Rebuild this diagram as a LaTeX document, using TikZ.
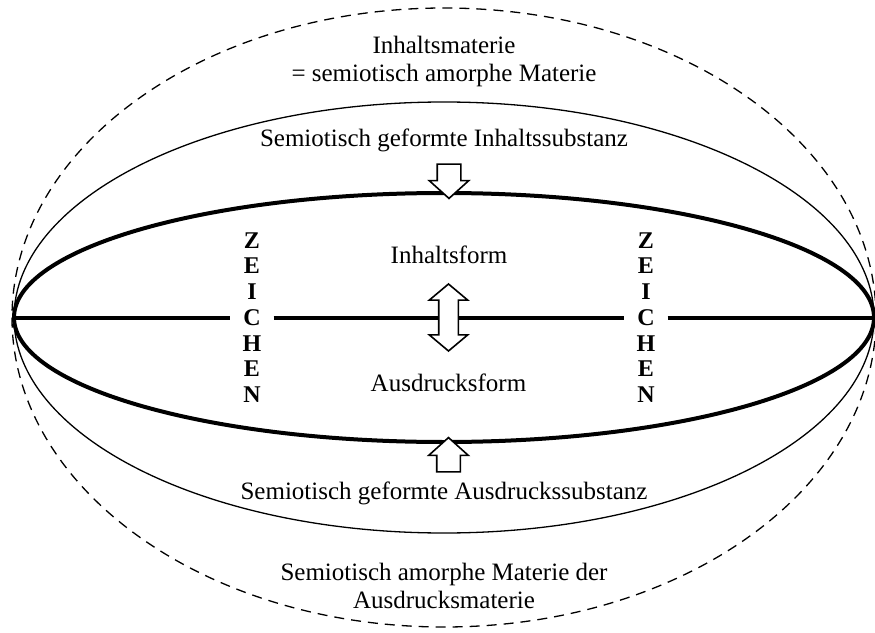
\documentclass[tikz,border=0pt]{standalone}
\usepackage{fontspec}
\setmainfont{Liberation Serif}
\usetikzlibrary{shapes.arrows}

\begin{document}
\begin{tikzpicture}[x=1pt, y=1pt,
    heavy/.style={line width=4pt},
    light/.style={line width=1.3pt},
    dashes/.style={line width=1.3pt, dash pattern=on 10pt off 7pt},
    label/.style={font=\fontsize{25}{27.5}\selectfont, align=center},
    sign/.style={font=\fontsize{24}{25.7}\selectfont\bfseries, align=center, inner sep=12pt},
    blockarrow/.style={single arrow, draw, fill=white, line width=1.6pt, inner sep=11pt,
        single arrow head extend=8pt, single arrow tip angle=96, minimum height=32pt},
    twoway/.style={double arrow, draw, fill=white, line width=1.6pt, inner sep=9pt,
        double arrow head extend=9.5pt, double arrow tip angle=100, minimum height=67pt}]
    \useasboundingbox (-444, -314.5) rectangle (431, 317.5);
    \draw[dashes] (0, 0) ellipse [x radius=432, y radius=309.5];
    \draw[light] (0, 0) ellipse [x radius=430, y radius=215.5];
    \draw[heavy] (0, 0) ellipse [x radius=430, y radius=124.5];
    \coordinate (lft) at (-430, 0);
    \coordinate (rgt) at (430, 0);
    \node[sign] (zl) at (-192, 0) {Z\\E\\I\\C\\H\\E\\N};
    \node[sign] (zr) at (202, 0) {Z\\E\\I\\C\\H\\E\\N};
    \draw[heavy] (lft) -- (zl.west);
    \draw[heavy] (zl.east) -- (zr.west);
    \draw[heavy] (zr.east) -- (rgt);
    \node[twoway, shape border rotate=90] (inout) at (4.5, 0) {};
    \node[blockarrow, shape border rotate=270] (down) at (5, 141.5) {};
    \node[blockarrow, shape border rotate=90, minimum height=34pt] (up) at (4.5, -142.5) {};
    \node[label] (matter) at (0, 256) {Inhaltsmaterie\\= semiotisch amorphe Materie};
    \node[label] (csub) at (0, 177.5) {Semiotisch geformte Inhaltssubstanz};
    \node[label] (cform) at (5, 62.5) {Inhaltsform};
    \node[label] (eform) at (4.5, -65.5) {Ausdrucksform};
    \node[label] (esub) at (0, -175.5) {Semiotisch geformte Ausdruckssubstanz};
    \node[label] (ematter) at (0, -268.5) {Semiotisch amorphe Materie der\\Ausdrucksmaterie};
\end{tikzpicture}
\end{document}
